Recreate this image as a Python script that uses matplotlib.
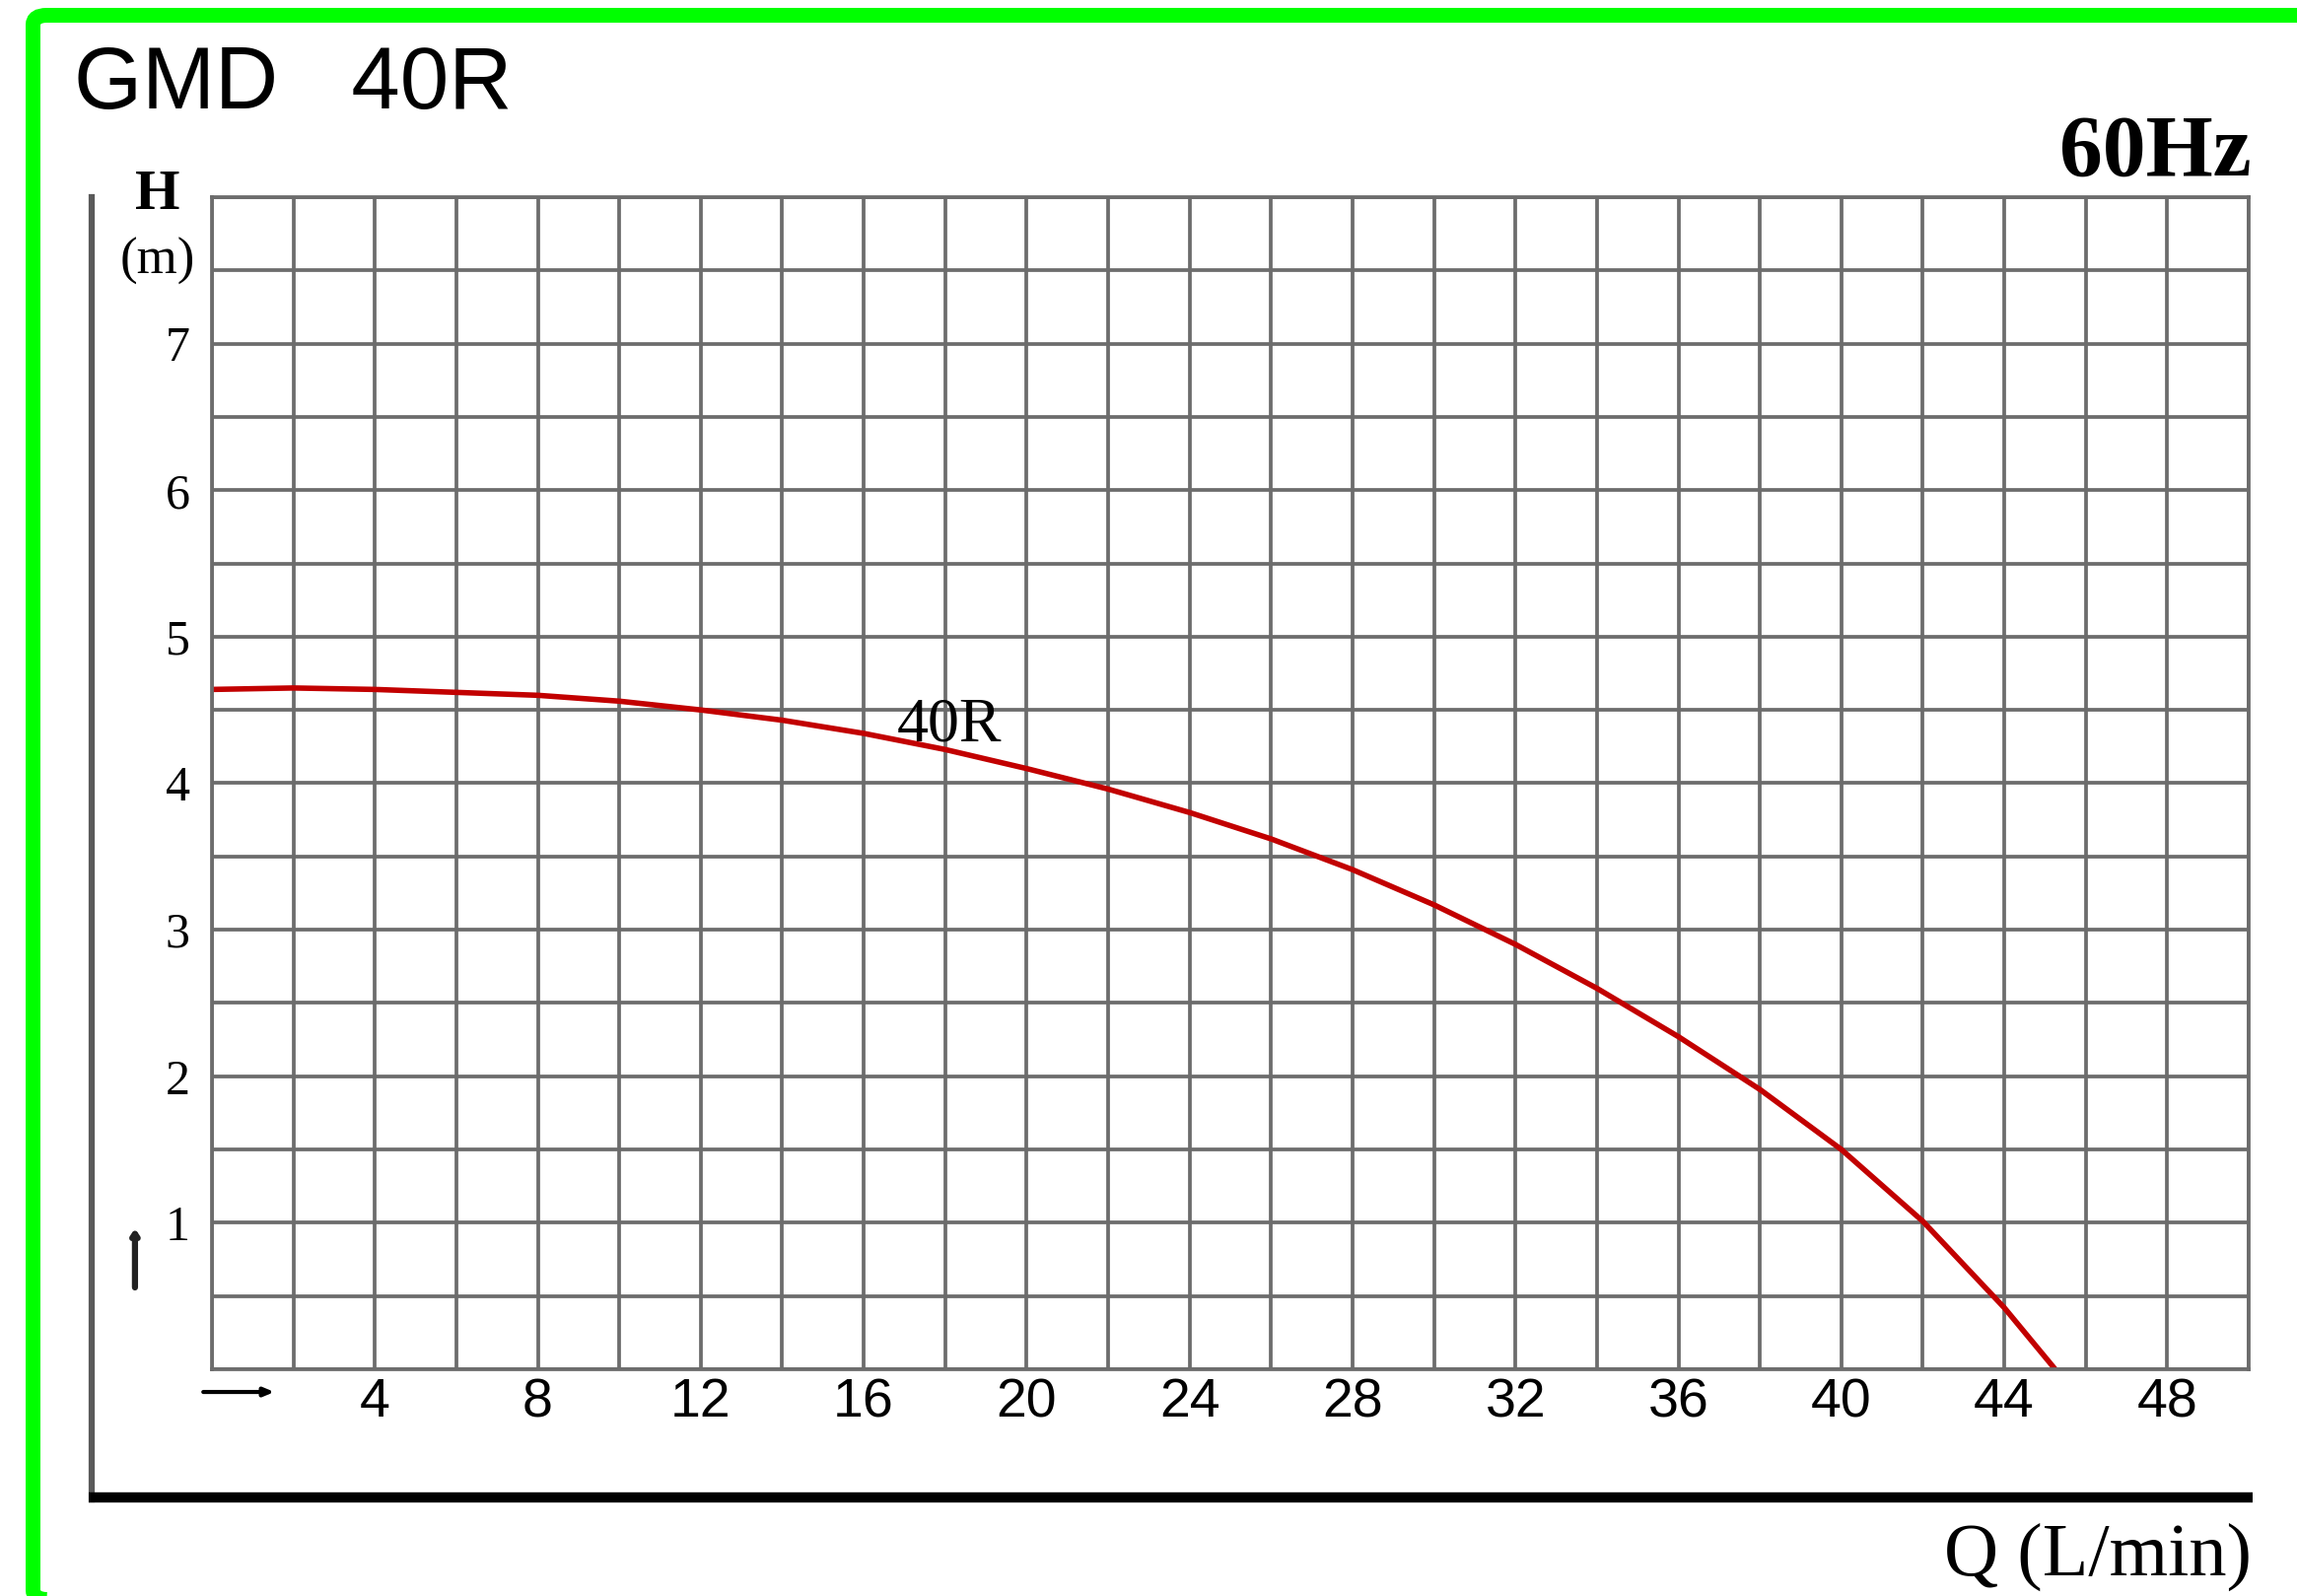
import numpy as np
import matplotlib
matplotlib.use("Agg")
import matplotlib.pyplot as plt
from matplotlib.lines import Line2D
from matplotlib.patches import FancyBboxPatch

W, H = 2330, 1619

q_vals = [0, 2, 4, 6, 8, 10, 12, 14, 16, 18, 20, 22, 24, 26, 28, 30, 32, 34,
          36, 38, 40, 42, 44, 45.25]
h_vals = [4.64, 4.65, 4.64, 4.62, 4.60, 4.56, 4.50, 4.43, 4.34, 4.23, 4.10,
          3.96, 3.80, 3.62, 3.41, 3.17, 2.90, 2.60, 2.27, 1.91, 1.50, 1.01,
          0.42, 0.0]

x_ticks = [4, 8, 12, 16, 20, 24, 28, 32, 36, 40, 44, 48]
y_ticks = [1, 2, 3, 4, 5, 6, 7]
x_lim = (0, 50)
y_lim = (0, 8)

GRID = "#6c6c6c"
SERIF = ["Liberation Serif", "DejaVu Serif"]
SANS = ["Liberation Sans", "DejaVu Sans"]


def fx(px):
    return px / W


def fy(py):
    return 1 - py / H


fig = plt.figure(figsize=(W / 100, H / 100), dpi=100)
fig.patch.set_facecolor("white")

# marco verde
frame = FancyBboxPatch((fx(33.5), fy(1622.5)), fx(2400) - fx(33.5), fy(15.5) - fy(1622.5),
                       boxstyle="round,pad=0,rounding_size=0.006",
                       transform=fig.transFigure, facecolor="none",
                       edgecolor="#00ff00", linewidth=10.8, clip_on=False)
fig.patches.append(frame)

# linea vertical izquierda y linea negra inferior
fig.add_artist(Line2D([fx(93), fx(93)], [fy(200), fy(1521)], color="#5a5a5a",
                      linewidth=4.5, transform=fig.transFigure))
fig.add_artist(Line2D([fx(90), fx(2285)], [fy(1519), fy(1519)], color="black",
                      linewidth=7.5, solid_capstyle="butt", transform=fig.transFigure))

ax = fig.add_axes([fx(215), fy(1389), fx(2281) - fx(215), fy(200) - fy(1389)])
ax.set_xlim(*x_lim)
ax.set_ylim(*y_lim)

ax.set_xticks(x_ticks)
ax.set_xticklabels([str(v) for v in x_ticks], family=SANS, fontsize=40)
ax.set_yticks(y_ticks)
ax.set_yticklabels([str(v) for v in y_ticks], family=SERIF, fontsize=36)
ax.set_xticks(np.arange(x_lim[0], x_lim[1] + 0.1, 2), minor=True)
ax.set_yticks(np.arange(y_lim[0], y_lim[1] + 0.01, 0.5), minor=True)
ax.grid(which="both", color=GRID, linewidth=2.7)
ax.set_axisbelow(True)
ax.tick_params(which="both", length=0)
ax.tick_params(axis="x", pad=6)
ax.tick_params(axis="y", pad=16)

for s in ax.spines.values():
    s.set_color(GRID)
    s.set_linewidth(2.7)

ax.plot(q_vals, h_vals, color="#c20000", linewidth=4, solid_joinstyle="round",
        solid_capstyle="butt")
ax.text(18.1, 4.29, "40R", family=SERIF, fontsize=46, ha="center", va="baseline")

# flechas de los ejes
ax.annotate("", xy=(1.6, -0.155), xytext=(-0.28, -0.155), annotation_clip=False,
            arrowprops=dict(arrowstyle="-|>,head_length=0.6,head_width=0.25",
                            color="black", linewidth=3))
ax.annotate("", xy=(-1.89, 0.98), xytext=(-1.89, 0.54), annotation_clip=False,
            arrowprops=dict(arrowstyle="-|>,head_length=0.3,head_width=0.2",
                            color="#222", linewidth=4.5))

# textos
fig.text(fx(75), fy(110), "GMD   40R", family=SANS, fontsize=64, ha="left", va="baseline")
fig.text(fx(2284), fy(178), "60Hz", family=SERIF, fontsize=63, fontweight="bold",
         ha="right", va="baseline")
fig.text(fx(160), fy(212), "H", family=SERIF, fontsize=42, fontweight="bold",
         ha="center", va="baseline")
fig.text(fx(160), fy(278), "(m)", family=SERIF, fontsize=38, ha="center", va="baseline")
fig.text(fx(2284), fy(1598), "Q (L/min)", family=SERIF, fontsize=55, ha="right",
         va="baseline")

fig.savefig("out.png", dpi=100)
